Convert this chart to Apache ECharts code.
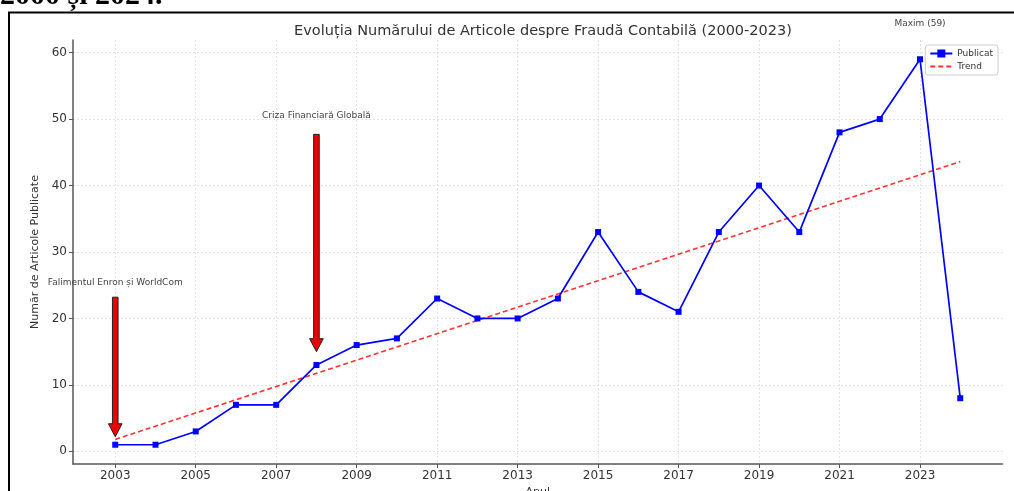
<!DOCTYPE html>
<html>
<head>
<meta charset="utf-8">
<script src="https://cdn.jsdelivr.net/npm/echarts@6/dist/echarts.min.js"></script>
<style>
html,body{margin:0;padding:0;background:#fff;}
#chart{width:1014px;height:491px;}
</style>
</head>
<body>
<div id="chart"></div>
<script>
// ---- data ----
const years = [2003,2004,2005,2006,2007,2008,2009,2010,2011,2012,2013,2014,2015,2016,2017,2018,2019,2020,2021,2022,2023,2024];
const published = [1,1,3,7,7,13,16,17,23,20,20,23,33,24,21,33,40,33,48,50,59,8];
const trendYears = [2003, 2024];
const trendValues = [1.8, 43.6];
const xTickLabels = [2003,2005,2007,2009,2011,2013,2015,2017,2019,2021,2023];
const yTickLabels = [0,10,20,30,40,50,60];
// annotations
const annotationTexts = ['Falimentul Enron și WorldCom', 'Criza Financiară Globală', 'Maxim (59)'];
const annotationYears = [2003, 2008, 2023];
const annotationTextValues = [25.4, 50.5, 64.4];
const arrowYears = [2003, 2008];
const arrowTops = [23.2, 47.7];
const arrowTips = [2.2, 15.0];

const chart = echarts.init(document.getElementById('chart'), null, {renderer:'canvas'});
const font = 'DejaVu Sans';

const seriesData = years.map((y,i)=>[y, published[i]]);
const trendData = trendYears.map((y,i)=>[y, trendValues[i]]);
const arrowData = arrowYears.map((y,i)=>[y, arrowTops[i], arrowTips[i]]);
const textData = annotationYears.map((y,i)=>[y, annotationTextValues[i], i]);

const option = {
  animation:false,
  backgroundColor:'#fff',
  title:{
    text:'Evoluția Numărului de Articole despre Fraudă Contabilă (2000-2023)',
    left:538, top:19, textAlign:'center',
    textStyle:{fontFamily:font, fontSize:14.5, fontWeight:'normal', color:'#333'}
  },
  graphic:[
    {type:'rect', shape:{x:9, y:12.5, width:1100, height:600}, style:{fill:null, stroke:'#000', lineWidth:2}, silent:true, z:100},
    {type:'text', x:0, y:11, style:{text:'2000 și 2024.', font:'bold 30px "Liberation Serif"', fill:'#000', verticalAlign:'bottom'}, z:100}
  ],
  legend:{
    orient:'vertical', right:16, top:45,
    padding:[4,5,4,4], itemGap:4, itemWidth:22, itemHeight:10,
    backgroundColor:'#fff', borderColor:'#ccc', borderWidth:1, borderRadius:3,
    textStyle:{fontFamily:font, fontSize:9, color:'#333'},
    data:['Publicat', {name:'Trend', itemStyle:{opacity:0}}]
  },
  grid:{left:73, right:11.5, top:40, bottom:27, containLabel:false, outerBoundsMode:'none'},
  xAxis:{
    type:'value', min:2001.95, max:2025.05,
    name:'Anul', nameLocation:'middle', nameGap:18,
    nameTextStyle:{fontFamily:font, fontSize:11, color:'#333'},
    axisLine:{show:true, onZero:false, lineStyle:{color:'#555', width:1.5}},
    axisTick:{show:true, length:4, customValues:xTickLabels, lineStyle:{color:'#555'}},
    axisLabel:{customValues:xTickLabels, fontFamily:font, fontSize:12, color:'#333', margin:6, formatter:v=>String(v)},
    splitLine:{show:true, lineStyle:{color:'#dcdcdc', type:[2,2], width:0.8}}
  },
  yAxis:{
    type:'value', min:-1.9, max:61.9,
    name:'Număr de Articole Publicate', nameLocation:'middle', nameGap:22, nameRotate:90,
    nameTextStyle:{fontFamily:font, fontSize:11, color:'#333'},
    axisLine:{show:true, onZero:false, lineStyle:{color:'#555', width:1.5}},
    axisTick:{show:true, length:4, customValues:yTickLabels, lineStyle:{color:'#555'}},
    axisLabel:{customValues:yTickLabels, fontFamily:font, fontSize:12, color:'#333', margin:6},
    splitLine:{show:true, lineStyle:{color:'#dcdcdc', type:[2,2], width:0.8}}
  },
  series:[
    {
      name:'Publicat', type:'line', data:seriesData,
      symbol:'rect', symbolSize:6, showAllSymbol:true,
      lineStyle:{color:'#0000ff', width:1.7},
      itemStyle:{color:'#0000ff'},
      z:3
    },
    {
      name:'Trend', type:'line', data:trendData,
      symbol:'none',
      lineStyle:{color:'#ff3333', width:1.6, type:[5,3]},
      itemStyle:{color:'#ff3333'},
      z:2
    },
    {
      name:'arrows', type:'custom', data:arrowData, clip:false, z:4,
      renderItem:function(params, api){
        const top = api.coord([api.value(0), api.value(1)]);
        const tip = api.coord([api.value(0), api.value(2)]);
        const x = top[0], sw = 2.8, hw = 6.8, hl = 13;
        const pts = [[x-sw, top[1]],[x+sw, top[1]],[x+sw, tip[1]-hl],[x+hw, tip[1]-hl],[x, tip[1]],[x-hw, tip[1]-hl],[x-sw, tip[1]-hl]];
        return {type:'polygon', shape:{points:pts}, style:{fill:'#ee0000', stroke:'#222', lineWidth:1}};
      }
    },
    {
      name:'notes', type:'custom', data:textData, clip:false, z:5,
      renderItem:function(params, api){
        const p = api.coord([api.value(0), api.value(1)]);
        return {type:'text', x:p[0], y:p[1], style:{text:annotationTexts[api.value(2)], fontFamily:font, fontSize:9, fill:'#444', align:'center', verticalAlign:'middle'}};
      }
    }
  ]
};
chart.setOption(option);
</script>
</body>
</html>
